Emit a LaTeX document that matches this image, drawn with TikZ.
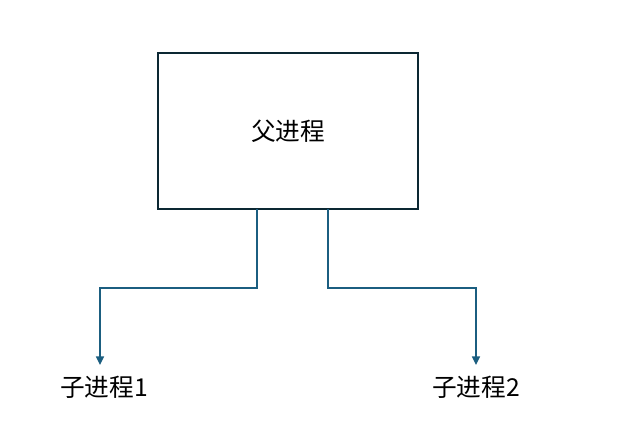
\documentclass[tikz,border=0pt]{standalone}
\usepackage{fontspec}
\setmainfont{Noto Sans CJK SC}
\usepackage{tikz}
\usetikzlibrary{arrows.meta, positioning}
\definecolor{boxline}{RGB}{12,40,51}
\definecolor{linkblue}{RGB}{27,94,128}
\begin{document}
\begin{tikzpicture}[
    x=0.75pt, y=-0.75pt,
    procbox/.style={rectangle, draw=boxline, line width=1.5pt, minimum width=195pt, minimum height=117pt, font=\fontsize{18.5pt}{22pt}\selectfont},
    label/.style={font=\fontsize{18.5pt}{22pt}\selectfont, inner sep=0pt},
    link/.style={-{Triangle[width=6pt,length=6.5pt]}, draw=linkblue, line width=1.2pt},
]
\useasboundingbox (0,0) rectangle (638,438);

% parent process
\node[procbox] (parent) at (288,131) {父进程};

% child processes
\node[label] (child1) at (104,387) {子进程1};
\node[label] (child2) at (476,387) {子进程2};

% branch points
\coordinate (s1) at (257,209);
\coordinate (s2) at (328,209);
\coordinate (t1) at (100,365);
\coordinate (t2) at (476,365);

\draw[link] (s1) -- ++(0,79) -| (t1);
\draw[link] (s2) -- ++(0,79) -| (t2);

\end{tikzpicture}
\end{document}
